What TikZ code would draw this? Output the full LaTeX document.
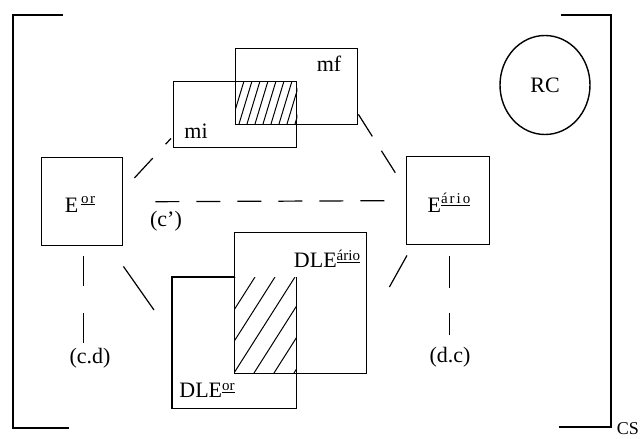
\documentclass[tikz,border=0pt]{standalone}
\usepackage{fontspec}
\setmainfont{Liberation Serif}
\usetikzlibrary{shapes.geometric}
\newcommand{\supu}[2][11pt]{\raisebox{#1}{\fontsize{15}{15}\selectfont\underline{#2}}}
\begin{document}
\begin{tikzpicture}[x=1pt,y=-1pt,
  box/.style={draw, line width=1.4pt, anchor=north west, inner sep=0pt},
  lbl/.style={inner sep=0pt, font=\fontsize{22}{26}\selectfont},
  conn/.style={line width=1.2pt},
  hatchline/.style={line width=1pt},
  brk/.style={line width=1.5pt}]
\useasboundingbox (0,0) rectangle (640,439);

% brackets
\draw[brk] (63,15) -- (13,15) -- (13,428) -- (69,428);
\draw[brk] (561,15) -- (611,15) -- (611,427) -- (559,427);
\node[inner sep=0pt, font=\fontsize{18}{21}\selectfont, anchor=east] (cs) at (639,429) {CS};

% top pair
\node[box, minimum width=123, minimum height=66] (mi) at (173,81) {};
\node[box, minimum width=122, minimum height=76] (mf) at (235,48) {};
\begin{scope}
  \clip (mi.north east) rectangle (mf.south west);
  \foreach \k in {-2,...,9}
    \draw[hatchline] (231+8*\k,124) -- ++(13,-43);
\end{scope}
\node[lbl] (tmf) at (329,64) {mf};
\node[lbl] (tmi) at (196,131) {mi};

% RC
\node[draw, ellipse, line width=1.4pt, minimum width=90, minimum height=99, inner sep=0pt] (RC) at (545,85) {};
\node[lbl] (tRC) at (545,85) {RC};

% E boxes
\node[box, minimum width=81, minimum height=88] (Eor) at (41,157) {};
\node[lbl] (tEor) at (80,204) {E\hspace{3pt}\supu[9pt]{o\hspace{1.5pt}r}};
\node[box, minimum width=83, minimum height=88] (Eario) at (406,156) {};
\node[lbl] (tEario) at (449,203) {E\supu[9pt]{á\hspace{2pt}r\hspace{2pt}i\hspace{2pt}o}};

% bottom pair
\node[box, minimum width=132, minimum height=141] (DLEa) at (234,232) {};
\node[box, draw=none, minimum width=123, minimum height=130] (DLEo) at (172,277) {};
\draw[line width=1.4pt] (DLEa.west |- DLEo.north) -- (DLEo.north west) -- (DLEo.south west)
  -- (DLEo.south east) -- (DLEo.north east);
\begin{scope}
  \clip (DLEo.north east) rectangle (DLEa.south west);
  \foreach \k in {-3,...,3}
    \draw[hatchline] (234+20*\k,373) -- ++(61,-96);
\end{scope}
\node[lbl] (tDLEa) at (327,259) {DLE\supu[7pt]{ário}};
\node[lbl] (tDLEo) at (207,390) {DLE\supu[7pt]{or}};

% labels
\node[lbl] (tc) at (166,221) {(c')};
\node[lbl] (tcd) at (90,358) {(c.d)};
\node[lbl] (tdc) at (450,357) {(d.c)};

% dashed connectors
\draw[conn, dash pattern=on 27 off 19] ([shift={(11,21)}]Eor.north east) -- ([shift={(-2,-10)}]mi.south west);
\draw[conn, dash pattern=on 26 off 17] ([shift={(0,-11)}]mf.south east) -- ([shift={(-8,21)}]Eario.north west);
\draw[conn, dash pattern=on 24 off 17] ([xshift=32]Eor.east) -- ([xshift=-19]Eario.west);
\draw[conn] ([shift={(0,20)}]Eor.south east) -- ([shift={(-18,33)}]DLEo.north west);
\draw[conn] ([shift={(1,10)}]Eario.south west) -- ([shift={(22,55)}]DLEa.north east);
\draw[conn, dash pattern=on 30 off 27] ([shift={(1.5,10)}]Eor.south) -- ([shift={(1.5,98)}]Eor.south);
\draw[conn, dash pattern=on 32 off 25] ([shift={(1.5,11)}]Eario.south) -- ([shift={(1.5,90)}]Eario.south);
\end{tikzpicture}
\end{document}
